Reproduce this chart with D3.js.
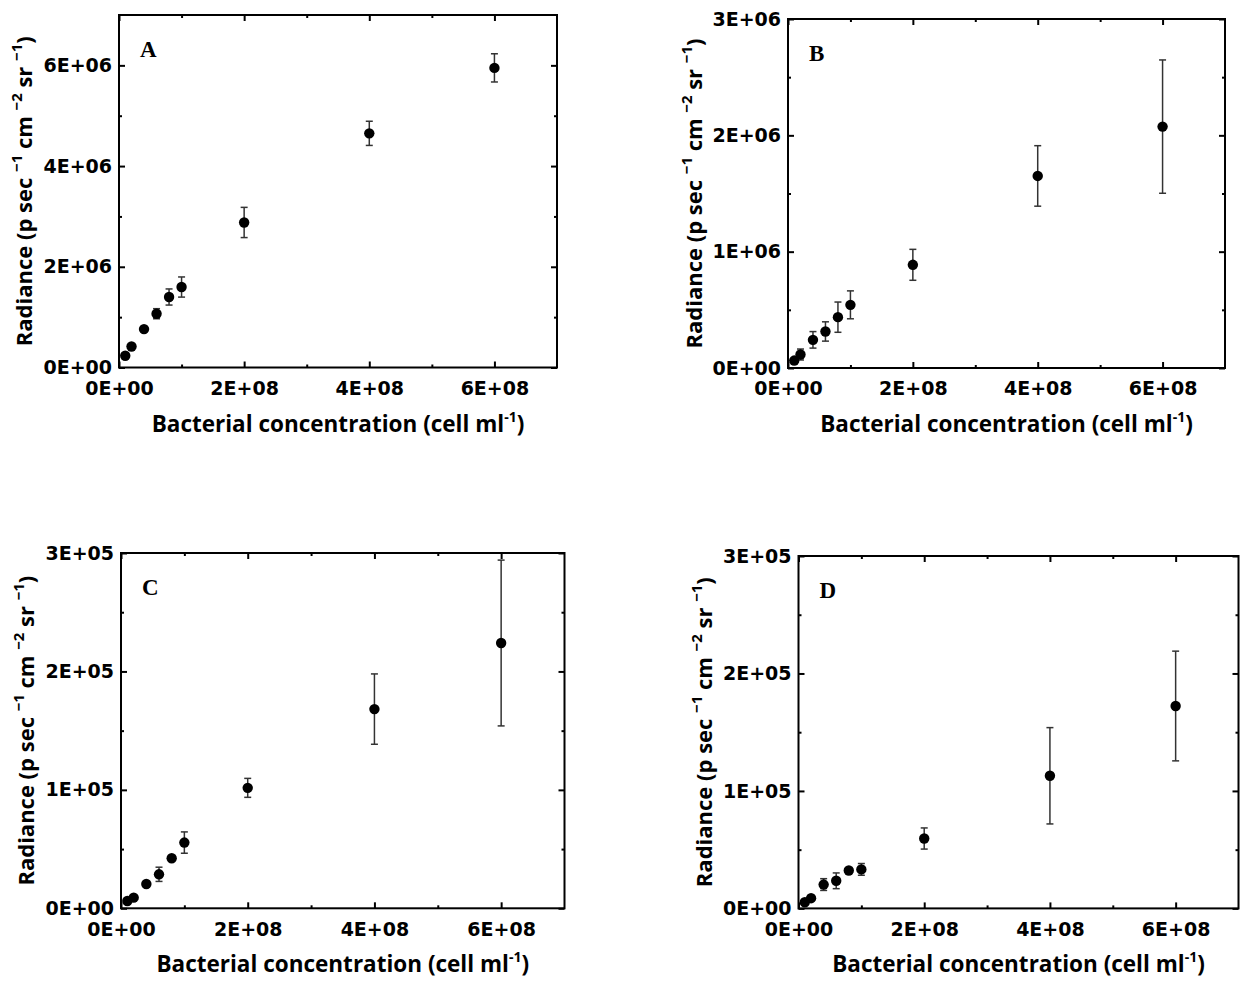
<!DOCTYPE html>
<html>
<head>
<meta charset="utf-8">
<script src="https://cdn.jsdelivr.net/npm/d3@7"></script>
<style>
  body { margin: 0; background: #fff; }
  svg { display: block; }
</style>
</head>
<body>
<svg id="svg"></svg>
<script>
// bacterial concentration (cell/ml), shared by all four panels
const conc = [1e7, 2e7, 4e7, 6e7, 8e7, 1e8, 2e8, 4e8, 6e8];

// radiance means and error bars
const radA = [0.233e6, 0.418e6, 0.763e6, 1.068e6, 1.40e6, 1.598e6, 2.88e6, 4.65e6, 5.95e6];
const errA = [0.03e6, 0.03e6, 0.04e6, 0.10e6, 0.16e6, 0.20e6, 0.30e6, 0.24e6, 0.28e6];

const radB = [0.064e6, 0.116e6, 0.242e6, 0.314e6, 0.437e6, 0.543e6, 0.887e6, 1.651e6, 2.075e6];
const errB = [0.015e6, 0.047e6, 0.071e6, 0.083e6, 0.13e6, 0.12e6, 0.133e6, 0.26e6, 0.573e6];

const radC = [6.2e3, 9.0e3, 20.5e3, 28.7e3, 42.3e3, 55.5e3, 101.7e3, 168.2e3, 224e3];
const errC = [1e3, 1e3, 1.5e3, 6e3, 2e3, 9e3, 8e3, 29.7e3, 70e3];

const radD = [5.2e3, 8.7e3, 20.3e3, 23.5e3, 32.3e3, 33.2e3, 59.5e3, 112.9e3, 172.3e3];
const errD = [1e3, 1.5e3, 5e3, 6.7e3, 2e3, 5e3, 9e3, 41e3, 46.7e3];

// axis ticks
const xMajor = [0, 2e8, 4e8, 6e8];
const xMinor = [1e8, 3e8, 5e8];
const yMajorA = [0, 2e6, 4e6, 6e6];
const yMinorA = [1e6, 3e6, 5e6];
const yMajorB = [0, 1e6, 2e6, 3e6];
const yMinorB = [0.5e6, 1.5e6, 2.5e6];
const yMajorCD = [0, 1e5, 2e5, 3e5];
const yMinorCD = [0.5e5, 1.5e5, 2.5e5];

const panels = [
    { label: 'A', rad: radA, err: errA, yMax: 7e6, major: yMajorA, minor: yMinorA,
      box: { l: 119, t: 15, r: 557, b: 367.5 }, ytx: 32 },
    { label: 'B', rad: radB, err: errB, yMax: 3e6, major: yMajorB, minor: yMinorB,
      box: { l: 788, t: 19, r: 1225, b: 368 }, ytx: 702 },
    { label: 'C', rad: radC, err: errC, yMax: 3e5, major: yMajorCD, minor: yMinorCD,
      box: { l: 121, t: 553, r: 564.5, b: 908.3 }, ytx: 34 },
    { label: 'D', rad: radD, err: errD, yMax: 3e5, major: yMajorCD, minor: yMinorCD,
      box: { l: 798.5, t: 556, r: 1238.5, b: 908.4 }, ytx: 712 },
];

const width = 1248, height = 985;
const tickFont = '"DejaVu Sans", sans-serif';
const titleFont = '"Open Sans", sans-serif';

// 0E+00, 2E+08 ...
function sci(v) {
    if (v === 0) return '0E+00';
    const e = Math.floor(Math.log10(v) + 1e-9);
    const m = Math.round(v / Math.pow(10, e) * 10) / 10;
    return `${m}E+${String(e).padStart(2, '0')}`;
}

const svg = d3.select('#svg')
    .attr('width', width)
    .attr('height', height)
    .attr('viewBox', [0, 0, width, height]);

function drawPanel(p) {
    const { l, t, r, b } = p.box;
    const x = d3.scaleLinear().domain([0, 7e8]).range([l, r]);
    const y = d3.scaleLinear().domain([0, p.yMax]).range([b, t]);

    const g = svg.append('g');

    const styleAxis = sel => {
        sel.select('.domain').remove();
        sel.selectAll('line').attr('stroke', '#000').attr('stroke-width', 2);
        sel.selectAll('text')
            .attr('font-family', tickFont)
            .attr('font-weight', 'bold')
            .attr('font-size', 19)
            .attr('fill', '#000');
    };

    // bottom / left with labels, inward ticks
    g.append('g').attr('transform', `translate(0,${b})`)
        .call(d3.axisBottom(x).tickValues(xMajor).tickSize(-6).tickPadding(14).tickFormat(sci))
        .call(styleAxis);
    g.append('g').attr('transform', `translate(0,${b})`)
        .call(d3.axisBottom(x).tickValues(xMinor).tickSize(-3).tickFormat(''))
        .call(styleAxis);
    g.append('g').attr('transform', `translate(${l},0)`)
        .call(d3.axisLeft(y).tickValues(p.major).tickSize(-6).tickPadding(7).tickFormat(sci))
        .call(styleAxis);
    g.append('g').attr('transform', `translate(${l},0)`)
        .call(d3.axisLeft(y).tickValues(p.minor).tickSize(-3).tickFormat(''))
        .call(styleAxis);

    // mirrored ticks on top / right
    g.append('g').attr('transform', `translate(0,${t})`)
        .call(d3.axisTop(x).tickValues(xMajor).tickSize(-6).tickFormat(''))
        .call(styleAxis);
    g.append('g').attr('transform', `translate(0,${t})`)
        .call(d3.axisTop(x).tickValues(xMinor).tickSize(-3).tickFormat(''))
        .call(styleAxis);
    g.append('g').attr('transform', `translate(${r},0)`)
        .call(d3.axisRight(y).tickValues(p.major).tickSize(-6).tickFormat(''))
        .call(styleAxis);
    g.append('g').attr('transform', `translate(${r},0)`)
        .call(d3.axisRight(y).tickValues(p.minor).tickSize(-3).tickFormat(''))
        .call(styleAxis);

    g.append('rect')
        .attr('x', l).attr('y', t)
        .attr('width', r - l).attr('height', b - t)
        .attr('fill', 'none')
        .attr('stroke', '#000')
        .attr('stroke-width', 2);

    // panel letter
    g.append('text')
        .attr('x', l + 21)
        .attr('y', t + 42)
        .attr('font-family', '"Liberation Serif", serif')
        .attr('font-weight', 'bold')
        .attr('font-size', 23)
        .text(p.label);

    const pts = d3.range(conc.length);

    // error bars
    const eb = g.append('g').attr('stroke', '#333').attr('stroke-width', 1.5);
    eb.selectAll('line.v')
        .data(pts)
        .join('line')
            .attr('class', 'v')
            .attr('x1', i => x(conc[i])).attr('x2', i => x(conc[i]))
            .attr('y1', i => y(p.rad[i] - p.err[i]))
            .attr('y2', i => y(p.rad[i] + p.err[i]));
    eb.selectAll('line.cap')
        .data(pts.flatMap(i => [[i, -1], [i, 1]]))
        .join('line')
            .attr('class', 'cap')
            .attr('x1', ([i]) => x(conc[i]) - 3.5).attr('x2', ([i]) => x(conc[i]) + 3.5)
            .attr('y1', ([i, s]) => y(p.rad[i] + s * p.err[i]))
            .attr('y2', ([i, s]) => y(p.rad[i] + s * p.err[i]));

    g.append('g')
        .selectAll('circle')
        .data(pts)
        .join('circle')
            .attr('cx', i => x(conc[i]))
            .attr('cy', i => y(p.rad[i]))
            .attr('r', 5.2)
            .attr('fill', '#000');

    // axis titles
    const xt = g.append('text')
        .attr('x', (l + r) / 2)
        .attr('y', b + 64)
        .attr('text-anchor', 'middle')
        .attr('font-family', titleFont)
        .attr('font-weight', 'bold')
        .attr('font-size', 22.5);
    xt.append('tspan').text('Bacterial concentration (cell ml');
    xt.append('tspan').attr('font-size', 14).attr('dy', -10).text('-1');
    xt.append('tspan').attr('dy', 10).text(')');

    const yt = g.append('text')
        .attr('transform', `translate(${p.ytx},${(t + b) / 2}) rotate(-90)`)
        .attr('text-anchor', 'middle')
        .attr('font-family', titleFont)
        .attr('font-weight', 'bold')
        .attr('font-size', 22);
    const sup = [['Radiance (p sec ', '\u22121'], [' cm ', '\u22122'], [' sr ', '\u22121']];
    sup.forEach(([base, s], k) => {
        yt.append('tspan').attr('dy', k ? 10 : 0).text(base);
        yt.append('tspan').attr('font-size', 15).attr('dy', -10).text(s);
    });
    yt.append('tspan').attr('dy', 10).text(')');
}

panels.forEach(drawPanel);
</script>
</body>
</html>
